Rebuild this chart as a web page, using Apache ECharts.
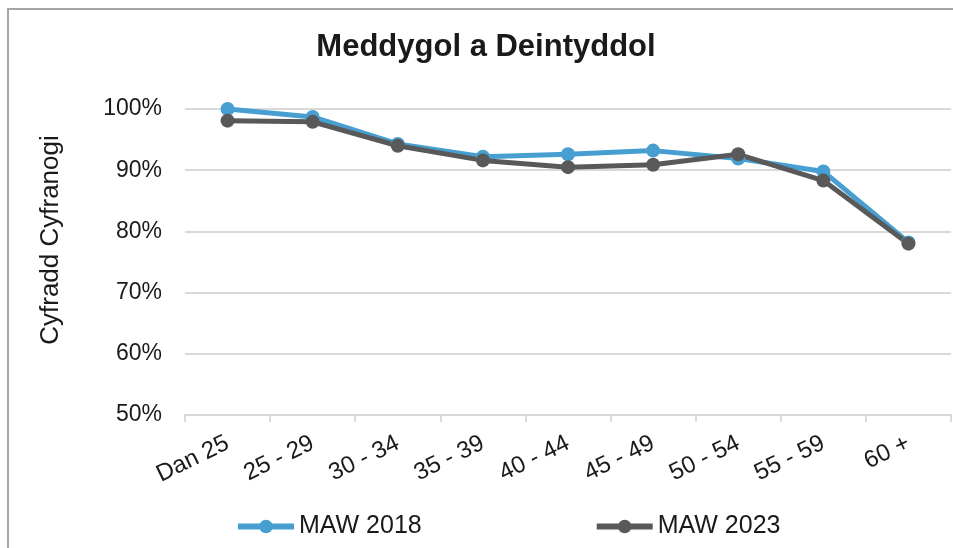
<!DOCTYPE html>
<html>
<head>
<meta charset="utf-8">
<script src="https://cdn.jsdelivr.net/npm/echarts@6/dist/echarts.min.js"></script>
<style>
  html, body { margin: 0; padding: 0; background: #fff; }
  #chart { width: 953px; height: 548px; }
</style>
</head>
<body>
<div id="chart"></div>
<script>
// categories and values (percent)
const ageGroups = ['Dan 25', '25 - 29', '30 - 34', '35 - 39', '40 - 44', '45 - 49', '50 - 54', '55 - 59', '60 +'];
const maw2018 = [100, 98.7, 94.3, 92.2, 92.6, 93.2, 91.9, 89.8, 78.2];
const maw2023 = [98.1, 97.9, 94.0, 91.6, 90.5, 90.9, 92.6, 88.3, 78.0];

const font = "'Liberation Sans', Arial, sans-serif";
const textColor = '#1a1a1a';

let myChart = echarts.init(document.getElementById('chart'));

let option = {
  backgroundColor: '#fff',
  textStyle: { fontFamily: font },
  title: {
    text: 'Meddygol a Deintyddol',
    left: 481,
    textAlign: 'center',
    top: 27,
    textStyle: { fontFamily: font, fontSize: 31, fontWeight: 'bold', color: textColor }
  },
  // outer frame of the original chart
  graphic: [{
    type: 'polyline',
    shape: { points: [[8, 548], [8, 9], [953, 9]] },
    style: { stroke: '#a6a6a6', lineWidth: 2, fill: null },
    silent: true
  }],
  legend: {
    left: 235,
    top: 514,
    padding: 0,
    itemWidth: 56,
    itemHeight: 17,
    itemGap: 172,
    lineStyle: { width: 6 },
    textStyle: { fontFamily: font, fontSize: 25, color: textColor },
    data: ['MAW 2018', 'MAW 2023']
  },
  grid: {
    left: 185,
    right: 2,
    top: 109,
    bottom: 133,
    containLabel: false
  },
  xAxis: {
    type: 'category',
    data: ageGroups,
    boundaryGap: true,
    axisLine: { lineStyle: { color: '#d9d9d9', width: 2 } },
    axisTick: { show: true, length: 7, lineStyle: { color: '#d9d9d9', width: 2 } },
    axisLabel: {
      rotate: 26,
      margin: 27,
      fontFamily: font,
      fontSize: 24,
      color: textColor
    }
  },
  yAxis: {
    type: 'value',
    min: 50,
    max: 100,
    interval: 10,
    name: 'Cyfradd Cyfranogi',
    nameLocation: 'middle',
    nameRotate: 90,
    nameGap: 121,
    nameTextStyle: { fontFamily: font, fontSize: 26, color: textColor, padding: [0, 0, 0, 44] },
    axisLine: { show: false },
    axisTick: { show: false },
    splitLine: { lineStyle: { color: '#d9d9d9', width: 2 } },
    axisLabel: {
      formatter: '{value}%',
      margin: 23,
      fontFamily: font,
      fontSize: 23,
      color: textColor
    }
  },
  series: [
    {
      name: 'MAW 2018',
      type: 'line',
      data: maw2018,
      symbol: 'circle',
      symbolSize: 14,
      color: '#479fd1',
      lineStyle: { width: 5, color: '#479fd1' },
      itemStyle: { color: '#479fd1' }
    },
    {
      name: 'MAW 2023',
      type: 'line',
      data: maw2023,
      symbol: 'circle',
      symbolSize: 14,
      color: '#595959',
      lineStyle: { width: 5, color: '#595959' },
      itemStyle: { color: '#595959' }
    }
  ]
};

myChart.setOption(option);
</script>
</body>
</html>
